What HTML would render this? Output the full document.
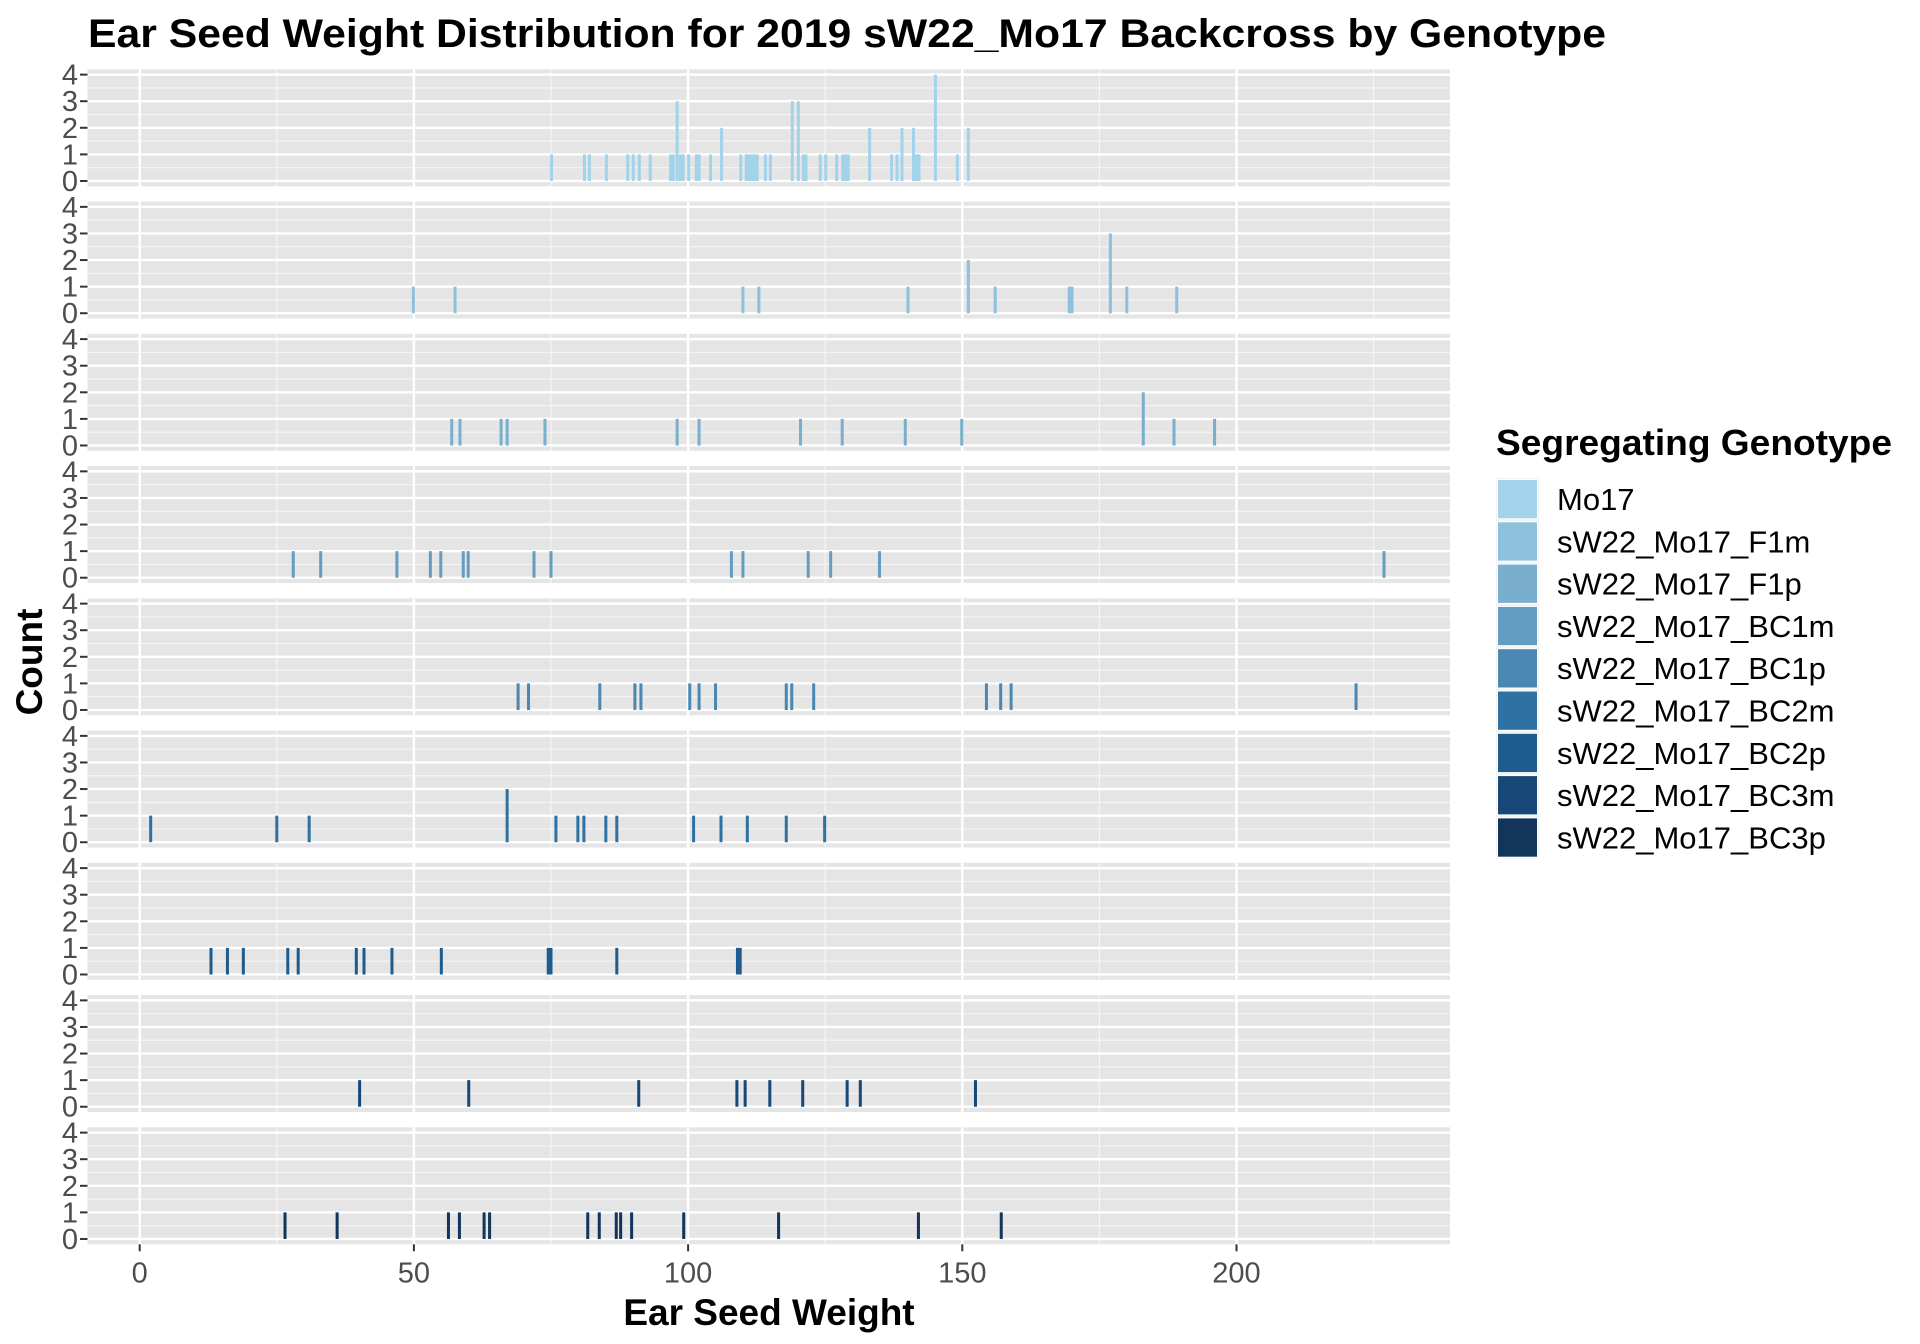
<!DOCTYPE html>
<html><head><meta charset="utf-8"><style>
html,body{margin:0;padding:0;background:#fff;}
svg{display:block;font-family:"Liberation Sans",Arial,sans-serif;}
</style></head><body>
<svg id="chart" width="1920" height="1344" viewBox="0 0 1920 1344" xmlns="http://www.w3.org/2000/svg">
<text x="88" y="47" font-size="40" font-weight="bold" fill="#000" textLength="1518" lengthAdjust="spacingAndGlyphs">Ear Seed Weight Distribution for 2019 sW22_Mo17 Backcross by Genotype</text>
<text x="769" y="1325" font-size="37" font-weight="bold" text-anchor="middle" fill="#000">Ear Seed Weight</text>
<text transform="translate(42,662) rotate(-90)" font-size="37" font-weight="bold" text-anchor="middle" fill="#000">Count</text>
<g id="panels"></g>
<g id="xaxis"></g>
<g id="legend"></g>
</svg>
<script>
const genotypes = ["Mo17","sW22_Mo17_F1m","sW22_Mo17_F1p","sW22_Mo17_BC1m","sW22_Mo17_BC1p","sW22_Mo17_BC2m","sW22_Mo17_BC2p","sW22_Mo17_BC3m","sW22_Mo17_BC3p"];
const colors = ["#a3d3ea","#8cc0dc","#79aecd","#639ec2","#4a88b2","#2f71a2","#1f5c8e","#174878","#11365a"];
const xTicks = [0,50,100,150,200];
const yTicks = [0,1,2,3,4];
const weightsMo17 = [75.1,81.1,82.0,85.1,89.0,90.0,91.1,93.1,96.8,97.3,98.0,98.6,99.1,100.1,101.5,102.0,104.1,106.1,109.6,110.6,111.1,111.6,112.1,112.6,114.1,115.0,119.0,120.1,121.0,121.5,124.1,125.1,127.1,128.2,128.7,129.2,133.1,137.1,138.1,139.0,141.1,141.6,142.1,145.1,149.1,151.1];
const countsMo17 = [1,1,1,1,1,1,1,1,1,1,3,1,1,1,1,1,1,2,1,1,1,1,1,1,1,1,3,3,1,1,1,1,1,1,1,1,2,1,1,2,2,1,1,4,1,2];
const weightsF1m = [49.9,57.5,110.0,112.9,140.1,151.1,156.0,169.5,170.0,177.0,180.0,189.1];
const countsF1m = [1,1,1,1,1,2,1,1,1,3,1,1];
const weightsF1p = [56.9,58.4,65.9,67.0,73.9,98.0,102.0,120.5,128.1,139.6,149.9,183.0,188.6,196.0];
const countsF1p = [1,1,1,1,1,1,1,1,1,1,1,2,1,1];
const weightsBC1m = [28.0,33.0,46.9,53.0,54.9,59.0,59.9,71.9,75.0,107.9,110.0,121.9,126.0,134.9,226.9];
const countsBC1m = [1,1,1,1,1,1,1,1,1,1,1,1,1,1,1];
const weightsBC1p = [69.0,70.9,83.9,90.3,91.4,100.3,102.0,105.0,117.9,118.9,122.9,154.4,157.0,158.9,221.8];
const countsBC1p = [1,1,1,1,1,1,1,1,1,1,1,1,1,1,1];
const weightsBC2m = [2.0,25.0,30.9,67.0,75.9,79.9,81.0,85.0,87.0,101.0,106.0,110.8,117.9,124.9];
const countsBC2m = [1,1,1,2,1,1,1,1,1,1,1,1,1,1];
const weightsBC2p = [13.0,16.0,18.9,27.0,28.9,39.5,40.9,46.0,55.0,74.5,75.0,87.0,109.0,109.5];
const countsBC2p = [1,1,1,1,1,1,1,1,1,1,1,1,1,1];
const weightsBC3m = [40.1,60.0,91.0,108.9,110.4,114.9,120.9,129.0,131.4,152.4];
const countsBC3m = [1,1,1,1,1,1,1,1,1,1];
const weightsBC3p = [26.5,36.0,56.3,58.3,62.8,63.8,81.7,83.8,86.9,87.7,89.7,99.2,116.5,142.0,157.1];
const countsBC3p = [1,1,1,1,1,1,1,1,1,1,1,1,1,1,1];
const allWeights = [weightsMo17,weightsF1m,weightsF1p,weightsBC1m,weightsBC1p,weightsBC2m,weightsBC2p,weightsBC3m,weightsBC3p];
const allCounts = [countsMo17,countsF1m,countsF1p,countsBC1m,countsBC1p,countsBC2m,countsBC2p,countsBC3m,countsBC3p];
const binWidth = 0.55;

const NS = "http://www.w3.org/2000/svg";
const PL = 87.5, PR = 1450, X0 = 139.7, XK = 5.484;
const PT0 = 69.3, PSTEP = 132.25, PH = 117, YMIN = -0.2, YMAX = 4.2;
function xs(v){ return X0 + v*XK; }
function ys(c, top){ return top + (YMAX - c) * PH / (YMAX - YMIN); }
function mk(tag, attrs, parent){ const e = document.createElementNS(NS, tag); for (const k in attrs) e.setAttribute(k, attrs[k]); parent.appendChild(e); return e; }

const panels = document.getElementById('panels');
const vMin = (PL - X0)/XK, vMax = (PR - X0)/XK;
for (let i = 0; i < genotypes.length; i++) {
  const top = PT0 + i*PSTEP;
  const g = mk('g', {}, panels);
  
  
  const bg = mk('rect', {x:PL, y:top, width:PR-PL, height:PH, fill:'#e5e5e5'}, g);
  
  
  for (let c = -0.5; c <= 4.5; c += 1) {
    if (c < YMIN || c > YMAX) continue;
    mk('line', {x1:PL, x2:PR, y1:ys(c,top), y2:ys(c,top), stroke:'#f5f5f5', 'stroke-width':1.2}, g);
  }
  for (let v = 25; v <= 250; v += 50) {
    if (v > vMax) continue;
    mk('line', {x1:xs(v), x2:xs(v), y1:top, y2:top+PH, stroke:'#f5f5f5', 'stroke-width':1.2}, g);
  }
  yTicks.forEach(c => mk('line', {x1:PL, x2:PR, y1:ys(c,top), y2:ys(c,top), stroke:'#fff', 'stroke-width':2.4}, g));
  xTicks.forEach(v => mk('line', {x1:xs(v), x2:xs(v), y1:top, y2:top+PH, stroke:'#fff', 'stroke-width':2.4}, g));
  yTicks.forEach(c => {
    mk('line', {x1:80, x2:87.5, y1:ys(c,top), y2:ys(c,top), stroke:'#333', 'stroke-width':2}, g);
    const t = mk('text', {x:78, y:ys(c,top)+10, 'font-size':29, 'text-anchor':'end', fill:'#4d4d4d'}, g);
    t.textContent = c;
    
    
  });
  const w = allWeights[i], n = allCounts[i];
  for (let j = 0; j < w.length; j++) {
    const x1 = xs(w[j] - binWidth/2), x2 = xs(w[j] + binWidth/2);
    const y1 = ys(n[j], top), y0 = ys(0, top);
    const r = mk('rect', {x:x1, y:y1, width:x2-x1, height:y0-y1, fill:colors[i]}, g);
    
    
  }
}
const xa = document.getElementById('xaxis');
const lastBottom = PT0 + 8*PSTEP + PH;
xTicks.forEach(v => {
  mk('line', {x1:xs(v), x2:xs(v), y1:lastBottom, y2:lastBottom+7, stroke:'#333', 'stroke-width':2}, xa);
  const t = mk('text', {x:xs(v), y:lastBottom+38, 'font-size':29, 'text-anchor':'middle', fill:'#4d4d4d'}, xa);
  t.textContent = v;
  
  
});
const lg = document.getElementById('legend');
const lt = mk('text', {x:1496, y:455, 'font-size':36, 'font-weight':'bold', fill:'#000', textLength:396, lengthAdjust:'spacingAndGlyphs'}, lg);
lt.textContent = 'Segregating Genotype';


for (let i = 0; i < genotypes.length; i++) {
  const y = 478 + i*42.3;
  const eg = mk('g', {}, lg);
  
  
  mk('rect', {x:1496, y:y, width:43, height:42.3, fill:'#f2f2f2'}, eg);
  mk('rect', {x:1497.5, y:y+1.5, width:40, height:39.3, fill:colors[i], stroke:'#fff', 'stroke-width':1}, eg);
  const t = mk('text', {x:1557, y:y+32, 'font-size':31, fill:'#000'}, eg);
  t.textContent = genotypes[i];
}
</script>
</body></html>
